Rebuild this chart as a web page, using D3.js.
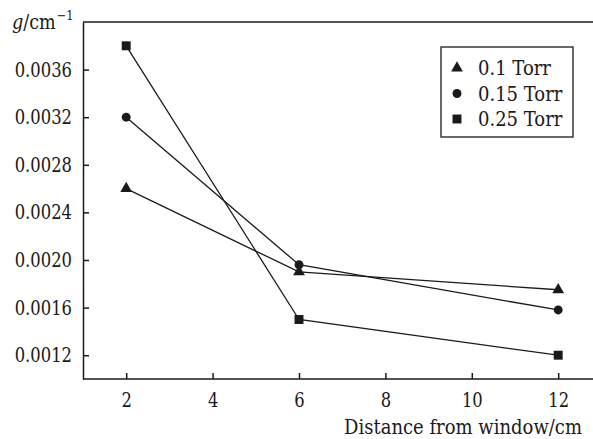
<!DOCTYPE html>
<html>
<head>
<meta charset="utf-8">
<script src="https://cdn.jsdelivr.net/npm/d3@7"></script>
<style>
  body { margin: 0; background: #fff; }
</style>
</head>
<body>
<svg id="chart" width="593" height="439"></svg>
<script>
// Data
const distances = [2, 6, 12];
const seriesNames = ['0.1 Torr', '0.15 Torr', '0.25 Torr'];
const torr01 = [0.0026, 0.0019, 0.00175];
const torr015 = [0.0032, 0.00196, 0.00158];
const torr025 = [0.0038, 0.0015, 0.0012];
const xTicks = [2, 4, 6, 8, 10, 12];
const yTicks = [0.0012, 0.0016, 0.0020, 0.0024, 0.0028, 0.0032, 0.0036];

const series = [
  { name: seriesNames[0], values: torr01, symbol: d3.symbolTriangle, size: 60 },
  { name: seriesNames[1], values: torr015, symbol: d3.symbolCircle, size: 62 },
  { name: seriesNames[2], values: torr025, symbol: d3.symbolSquare, size: 80 }
];

const svg = d3.select('#chart');
const padding = { left: 83, top: 22, bottom: 60 };
const height = 439;
const ink = '#1a1a1a';
const serif = 'DejaVu Serif';

// DejaVu Serif is wider than the Times-like face of the reference: squeeze it horizontally
// around its own x position so anchors stay where they are
const squeeze = (sel, factor) => sel.each(function() {
  const t = d3.select(this);
  const x0 = +t.attr('x') || 0;
  t.attr('x', x0 / factor).attr('transform', `scale(${factor},1)`);
});

const x = d3.scaleLinear().domain([1, 13]).range([padding.left, padding.left + 12 * 43.2]);
const y = d3.scaleLinear().domain([0.001, 0.004]).range([height - padding.bottom, padding.top]);

// Top frame line
svg.append('line')
  .attr('x1', padding.left).attr('x2', 593)
  .attr('y1', y(0.004)).attr('y2', y(0.004))
  .attr('stroke', ink).attr('stroke-width', 1.5);

// Axes
const xAxis = svg.append('g')
  .attr('transform', `translate(0, ${y(0.001)})`)
  .call(d3.axisBottom(x).tickValues(xTicks).tickSizeInner(-6).tickSizeOuter(0).tickPadding(14).tickFormat(d3.format('d')));

const yAxis = svg.append('g')
  .attr('transform', `translate(${padding.left}, 0)`)
  .call(d3.axisLeft(y).tickValues(yTicks).tickSizeInner(-6).tickSizeOuter(0).tickPadding(11).tickFormat(d3.format('.4f')));

[xAxis, yAxis].forEach(g => {
  g.attr('font-family', null).attr('font-size', 20);
  g.selectAll('path, line').attr('stroke', ink).attr('stroke-width', 1.5);
  g.selectAll('text').attr('fill', ink).style('font-family', serif).call(squeeze, 0.82);
});
xAxis.select('path.domain').attr('d', `M${padding.left},0H593`);

// Lines and markers
const line = d3.line()
  .x((d, i) => x(distances[i]))
  .y(d => y(d));

series.forEach(s => {
  svg.append('path')
    .datum(s.values)
    .attr('d', line)
    .attr('fill', 'none')
    .attr('stroke', ink)
    .attr('stroke-width', 1.3);

  svg.selectAll(null)
    .data(s.values)
    .join('path')
    .attr('d', d3.symbol().type(s.symbol).size(s.size))
    .attr('transform', (d, i) => `translate(${x(distances[i])}, ${y(d)})`)
    .attr('fill', ink);
});

// Legend
const legend = svg.append('g').attr('transform', 'translate(441, 47)');
legend.append('rect')
  .attr('width', 132).attr('height', 90)
  .attr('fill', '#fff').attr('stroke', ink).attr('stroke-width', 1.3);

series.forEach((s, i) => {
  const row = legend.append('g').attr('transform', `translate(16, ${21 + i * 25.5})`);
  row.append('path')
    .attr('d', d3.symbol().type(s.symbol).size(s.size))
    .attr('fill', ink);
  row.append('text')
    .attr('x', 21).attr('y', 7)
    .attr('font-size', '20px')
    .attr('fill', ink)
    .style('font-family', serif)
    .text(s.name)
    .call(squeeze, 0.9);
});

// Y axis title: g/cm with a separate superscript
const yTitle = svg.append('text').attr('x', 12).attr('y', 29).attr('font-size', '20px')
  .attr('fill', ink).style('font-family', serif);
yTitle.append('tspan').attr('font-style', 'italic').text('g');
yTitle.append('tspan').text('/cm');
yTitle.call(squeeze, 0.88);
const yTitleEnd = 12 + yTitle.node().getComputedTextLength() * 0.88;
svg.append('text')
  .attr('x', yTitleEnd + 1).attr('y', 20)
  .attr('font-size', '13px')
  .attr('fill', ink)
  .style('font-family', serif)
  .text('−1')
  .call(squeeze, 0.88);

svg.append('text')
  .attr('x', 582).attr('y', 434)
  .attr('text-anchor', 'end')
  .attr('font-size', '20px')
  .attr('fill', ink)
  .style('font-family', serif)
  .text('Distance from window/cm')
  .call(squeeze, 0.9);
</script>
</body>
</html>
